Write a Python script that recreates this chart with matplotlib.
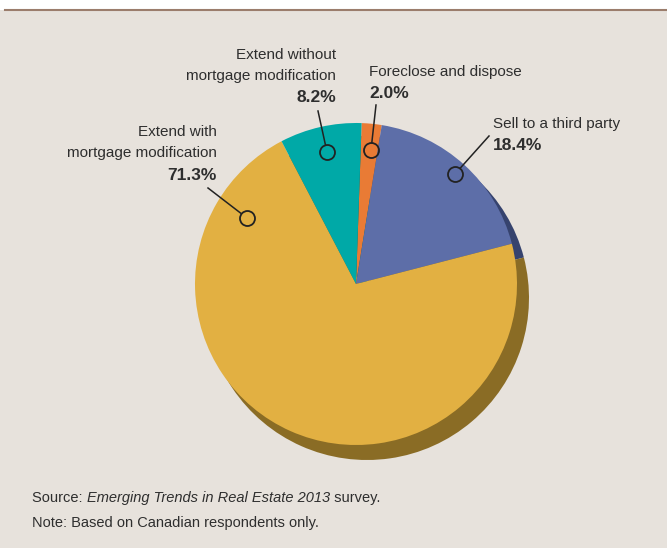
import matplotlib.pyplot as plt
from matplotlib.patches import Rectangle
import numpy as np

# Data (clockwise from the top)
labels = ["Foreclose and dispose", "Sell to a third party",
          "Extend with\nmortgage modification", "Extend without\nmortgage modification"]
shares = [2.0, 18.4, 71.3, 8.2]
colors = ["#e97b35", "#5d6ea8", "#e2b042", "#00a9a7"]
shadow_colors = ["#8a4a20", "#36436e", "#8a6c25", "#006664"]

W, H = 667, 548
plt.rcParams['font.family'] = ['Liberation Sans', 'DejaVu Sans']

fig = plt.figure(figsize=(W / 100, H / 100), dpi=100)
fig.patch.set_facecolor("white")
ax = fig.add_axes([0, 0, 1, 1])

# shadow pie, then the main pie on top
cx, cy, r = 356, H - 284, 161
ax.pie(shares, colors=shadow_colors, startangle=88, counterclock=False,
       center=(cx + 11, cy - 14), radius=r + 1, frame=True,
       wedgeprops=dict(linewidth=0, zorder=2))
ax.pie(shares, colors=colors, startangle=88, counterclock=False,
       center=(cx, cy), radius=r, frame=True,
       wedgeprops=dict(linewidth=0, zorder=3))
ax.set_xlim(0, W)
ax.set_ylim(0, H)
ax.set_aspect("equal")
ax.axis("off")

# beige panel and the rule on top
ax.add_patch(Rectangle((0, 0), W, H - 10, facecolor="#e7e2dc", edgecolor="none", zorder=0))
ax.plot([5, W], [H - 10, H - 10], color="#9b7d6c", lw=1.5, zorder=1)

txt = "#2e2e2e"
fs = 11
circ_r = 7.5

def callout(circle_xy, line_end, name_lines, pct, tx, ty, ha):
    x0, y0 = circle_xy[0], H - circle_xy[1]
    x1, y1 = line_end[0], H - line_end[1]
    d = np.hypot(x1 - x0, y1 - y0)
    xs = x0 + (x1 - x0) * circ_r / d
    ys = y0 + (y1 - y0) * circ_r / d
    ax.plot([xs, x1], [ys, y1], color="#222222", lw=1.1, zorder=5)
    ax.plot(x0, y0, marker="o", ms=2 * circ_r * 0.72, mfc="none", mec="#222222",
            mew=1.3, zorder=6)
    for i, line in enumerate(name_lines):
        ax.text(tx, H - (ty + 21 * i), line, ha=ha, va="center", fontsize=fs,
                color=txt, zorder=7)
    ax.text(tx, H - (ty + 21 * len(name_lines) + 1), pct, ha=ha, va="center",
            fontsize=12.5, fontweight="bold", color=txt, zorder=7)

callout((371, 150), (376, 105), ["Foreclose and dispose"], f"{shares[0]:.1f}%", 369, 72, "left")
callout((455, 174), (489, 136), ["Sell to a third party"], f"{shares[1]:.1f}%", 493, 124, "left")
callout((247, 218), (208, 188), ["Extend with", "mortgage modification"], f"{shares[2]:.1f}%", 217, 132, "right")
callout((327, 152), (318, 111), ["Extend without", "mortgage modification"], f"{shares[3]:.1f}%", 336, 55, "right")

# source line built from pieces so the title can be italic
renderer = fig.canvas.get_renderer()
x = 32
for piece, style in [("Source: ", "normal"), ("Emerging Trends in Real Estate 2013", "italic"),
                     (" survey.", "normal")]:
    t = ax.text(x, H - 498, piece, fontsize=10.5, color=txt, va="center", style=style)
    bb = t.get_window_extent(renderer)
    x += bb.width
ax.text(32, H - 523, "Note: Based on Canadian respondents only.",
        fontsize=10.5, color=txt, va="center")

fig.savefig("out.png", dpi=100, facecolor=fig.get_facecolor())
